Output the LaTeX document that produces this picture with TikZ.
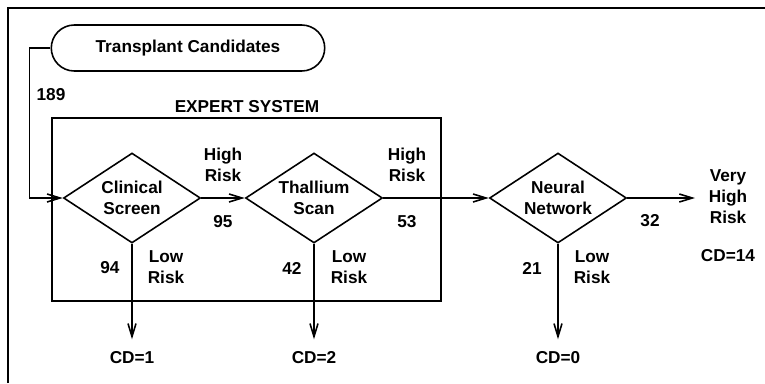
\documentclass[tikz,border=0pt]{standalone}
\usepackage{fontspec}
\setmainfont{Liberation Sans}
\usetikzlibrary{arrows.meta,positioning,shapes.geometric,shapes.misc}
\tikzset{
  es/text/.style={font=\fontsize{9.8}{12}\selectfont\bfseries, align=center, inner sep=1pt},
  es/decision/.style={
    diamond,
    draw,
    line width=0.9pt,
    aspect=1.52,
    minimum width=2.74cm,
    minimum height=1.8cm,
    inner sep=0pt,
    es/text
  },
  es/start/.style={
    rounded rectangle,
    draw,
    line width=0.9pt,
    minimum width=5.54cm,
    minimum height=0.92cm,
    es/text
  },
  es/system/.style={draw, line width=0.9pt, minimum width=7.78cm, minimum height=3.66cm},
  es/arrow/.style={-{Straight Barb[length=2.6mm,width=1.6mm]}, line width=0.9pt},
  es/down/.style={es/arrow, shorten >=6pt}
}
\begin{document}
\begin{tikzpicture}[x=0.02cm,y=-0.02cm]
  \useasboundingbox (0,0) rectangle (765,383);
  % outer frame (only top and left edges show)
  \draw[line width=0.7pt] (8,383) -- (8,8) -- (765,8);

  \node[es/start] (cand) at (188,48) {Transplant Candidates};
  \node[es/system] (expert) at (246.5,209.5) {};
  \node[es/text] (exptitle) at (247,107) {EXPERT SYSTEM};

  \node[es/decision] (clin) at (132,198) {Clinical\\Screen};
  \node[es/decision] (thal) at (314,198) {Thallium\\Scan};
  \node[es/decision] (neur) at (558,198) {Neural\\Network};

  \node[es/text] (cd1) at (132,358) {CD=1};
  \node[es/text] (cd2) at (314,358) {CD=2};
  \node[es/text] (cd0) at (558,358) {CD=0};
  \node[es/text] (vhr) at (728,197) {Very\\High\\Risk};
  \node[es/text] (cd14) at (728,256) {CD=14};
  \coordinate (vhrin) at (695,198);

  \draw[es/arrow] (cand.west) -- ++(-21,0) |- (clin.west);
  \draw[es/arrow] (clin.east) -- (thal.west);
  \draw[es/arrow] (thal.east) -- (neur.west);
  \draw[es/arrow] (neur.east) -- (vhrin);
  \foreach \a/\b in {clin/cd1,thal/cd2,neur/cd0}{\draw[es/down] (\a.south) -- (\b.north);}

  % counts and risk labels
  \node[es/text] at (51,95) {189};
  \node[es/text] at (223,165) {High\\Risk};
  \node[es/text] at (223,222) {95};
  \node[es/text] at (110,268) {94};
  \node[es/text] at (166,267) {Low\\Risk};
  \node[es/text] at (407,165) {High\\Risk};
  \node[es/text] at (407,222) {53};
  \node[es/text] at (292,268) {42};
  \node[es/text] at (349,267) {Low\\Risk};
  \node[es/text] at (650,221) {32};
  \node[es/text] at (532,268) {21};
  \node[es/text] at (592,267) {Low\\Risk};
\end{tikzpicture}
\end{document}
